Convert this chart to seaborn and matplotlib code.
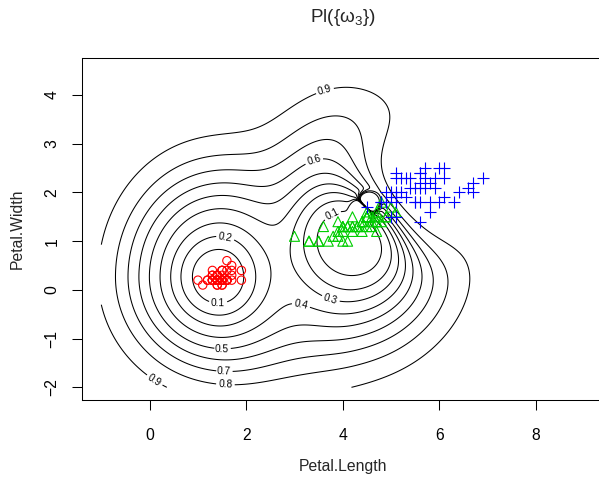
import numpy as np
import pandas as pd
import matplotlib
matplotlib.use("Agg")
import matplotlib.pyplot as plt
import seaborn as sns

# ---------------- data: iris petal measurements ----------------
setosa_length = [1.4, 1.4, 1.3, 1.5, 1.4, 1.7, 1.4, 1.5, 1.4, 1.5, 1.5, 1.6, 1.4, 1.1, 1.2,
                 1.5, 1.3, 1.4, 1.7, 1.5, 1.7, 1.5, 1.0, 1.7, 1.9, 1.6, 1.6, 1.5, 1.4, 1.6,
                 1.6, 1.5, 1.5, 1.4, 1.5, 1.2, 1.3, 1.4, 1.3, 1.5, 1.3, 1.3, 1.3, 1.6, 1.9,
                 1.4, 1.6, 1.4, 1.5, 1.4]
setosa_width = [0.2, 0.2, 0.2, 0.2, 0.2, 0.4, 0.3, 0.2, 0.2, 0.1, 0.2, 0.2, 0.1, 0.1, 0.2,
                0.4, 0.4, 0.3, 0.3, 0.3, 0.2, 0.4, 0.2, 0.5, 0.2, 0.2, 0.4, 0.2, 0.2, 0.2,
                0.2, 0.4, 0.1, 0.2, 0.2, 0.2, 0.2, 0.1, 0.2, 0.2, 0.3, 0.3, 0.2, 0.6, 0.4,
                0.3, 0.2, 0.2, 0.2, 0.2]
versicolor_length = [4.7, 4.5, 4.9, 4.0, 4.6, 4.5, 4.7, 3.3, 4.6, 3.9, 3.5, 4.2, 4.0, 4.7, 3.6,
                     4.4, 4.5, 4.1, 4.5, 3.9, 4.8, 4.0, 4.9, 4.7, 4.3, 4.4, 4.8, 5.0, 4.5, 3.5,
                     3.8, 3.7, 3.9, 5.1, 4.5, 4.5, 4.7, 4.4, 4.1, 4.0, 4.4, 4.6, 4.0, 3.3, 4.2,
                     4.2, 4.2, 4.3, 3.0, 4.1]
versicolor_width = [1.4, 1.5, 1.5, 1.3, 1.5, 1.3, 1.6, 1.0, 1.3, 1.4, 1.0, 1.5, 1.0, 1.4, 1.3,
                    1.4, 1.5, 1.0, 1.5, 1.1, 1.8, 1.3, 1.5, 1.2, 1.3, 1.4, 1.4, 1.7, 1.5, 1.0,
                    1.1, 1.0, 1.2, 1.6, 1.5, 1.6, 1.5, 1.3, 1.3, 1.3, 1.2, 1.4, 1.2, 1.0, 1.3,
                    1.2, 1.3, 1.3, 1.1, 1.3]
virginica_length = [6.0, 5.1, 5.9, 5.6, 5.8, 6.6, 4.5, 6.3, 5.8, 6.1, 5.1, 5.3, 5.5, 5.0, 5.1,
                    5.3, 5.5, 6.7, 6.9, 5.0, 5.7, 4.9, 6.7, 4.9, 5.7, 6.0, 4.8, 4.9, 5.6, 5.8,
                    6.1, 6.4, 5.6, 5.1, 5.6, 6.1, 5.6, 5.5, 4.8, 5.4, 5.6, 5.1, 5.1, 5.9, 5.7,
                    5.2, 5.0, 5.2, 5.4, 5.1]
virginica_width = [2.5, 1.9, 2.1, 1.8, 2.2, 2.1, 1.7, 1.8, 1.8, 2.5, 2.0, 1.9, 2.1, 2.0, 2.4,
                   2.3, 1.8, 2.2, 2.3, 1.5, 2.3, 2.0, 2.0, 1.8, 2.1, 1.8, 1.8, 1.8, 2.1, 1.6,
                   1.9, 2.0, 2.2, 1.5, 1.4, 2.3, 2.4, 1.8, 1.8, 2.1, 2.4, 2.3, 1.9, 2.3, 2.5,
                   2.3, 1.9, 2.0, 2.3, 1.8]

# ---------------- evidence sources behind the Pl({w3}) surface ----------------
# class (1 setosa, 2 versicolor, 3 virginica), weight, centre, spreads (left/right/down/up)
source_class = [1, 1, 2, 2, 2, 2, 3, 3]
source_weight = [1.74, 2.0, 1.7, 2.8, 40.0, 0.2, 4.0, 40.0]
source_cx = [1.43, 1.43, 4.2, 4.3, 4.39, 2.8, 5.6, 4.53]
source_cy = [0.27, 0.27, 1.0, 1.1, 1.64, -0.6, 2.05, 1.78]
source_gxl = [0.45, 3.2, 0.5, 1.3, 60.0, 0.5, 0.5, 60.0]
source_gxr = [0.5, 3.6, 0.4, 1.3, 60.0, 0.5, 0.5, 60.0]
source_gyd = [0.45, 3.2, 0.35, 1.6, 60.0, 0.5, 0.7, 60.0]
source_gyu = [0.34, 3.2, 0.27, 1.5, 60.0, 0.5, 0.6, 60.0]

contour_levels = [0.1, 0.2, 0.3, 0.4, 0.5, 0.6, 0.7, 0.8, 0.9]
label_levels = [0.9, 0.9, 0.8, 0.7, 0.6, 0.5, 0.4, 0.3, 0.2, 0.1, 0.1]
label_x = [3.67, 0.08, 1.57, 1.53, 3.38, 1.49, 3.12, 3.77, 1.55, 1.42, 3.79]
label_y = [3.95, -1.89, -1.93, -1.61, 2.73, -1.17, -0.37, -0.12, 0.99, -0.23, 1.53]

x_ticks = [0, 2, 4, 6, 8]
y_ticks = [-2, -1, 0, 1, 2, 3, 4]

# ---------------- style ----------------
sns.set_style("ticks")
plt.rcParams["font.family"] = ["Liberation Sans", "DejaVu Sans"]
plt.rcParams["mathtext.fontset"] = "custom"
plt.rcParams["mathtext.rm"] = "Liberation Sans"
plt.rcParams["mathtext.it"] = "Liberation Sans"
plt.rcParams["mathtext.default"] = "regular"

W, H = 599, 478
fig = plt.figure(figsize=(W / 100, H / 100), dpi=100)
left, right, top, bottom = 82, 603.6, 58, 400
ax = fig.add_axes([left / W, (H - bottom) / H, (right - left) / W, (bottom - top) / H])

# ---------------- surface ----------------
gx = np.linspace(-1, 9, 501)
gy = np.linspace(-2, 4.5, 421)
X, Y = np.meshgrid(gx, gy)
L = {1: np.zeros_like(X), 2: np.zeros_like(X), 3: np.zeros_like(X)}
for c, w, cx, cy, gxl, gxr, gyd, gyu in zip(source_class, source_weight, source_cx, source_cy,
                                           source_gxl, source_gxr, source_gyd, source_gyu):
    dx = X - cx
    dy = Y - cy
    q = np.where(dx < 0, gxl, gxr) * dx ** 2 + np.where(dy < 0, gyd, gyu) * dy ** 2
    L[c] = L[c] + w * np.exp(-q)
A1, A2, A3 = np.exp(-L[1]), np.exp(-L[2]), np.exp(-L[3])
Pl3 = A1 * A2 / (A2 * A3 + A1 * A3 + A1 * A2 - 2 * A1 * A2 * A3)

for lev in contour_levels:
    cs = ax.contour(X, Y, Pl3, levels=[lev], colors="black", linewidths=0.75, zorder=1)
    pos = [(x, y) for l, x, y in zip(label_levels, label_x, label_y) if abs(l - lev) < 1e-9]
    if pos and len(cs.allsegs[0]) > 0:
        ax.clabel(cs, manual=pos, inline=True, inline_spacing=3, fontsize=7.3, fmt="%.1f")

# ---------------- points ----------------
df = pd.DataFrame({
    "Petal.Length": setosa_length + versicolor_length + virginica_length,
    "Petal.Width": setosa_width + versicolor_width + virginica_width,
    "Species": ["setosa"] * 50 + ["versicolor"] * 50 + ["virginica"] * 50,
})
styles = {"setosa": ("o", "#FF0000", 36, "none"),
          "versicolor": ("^", "#00CD00", 52, "none"),
          "virginica": ("+", "#0000FF", 70, "#0000FF")}
for sp, (mk, col, size, fc) in styles.items():
    sub = df[df["Species"] == sp]
    sns.scatterplot(data=sub, x="Petal.Length", y="Petal.Width", marker=mk, s=size,
                    color=col, ax=ax, legend=False, zorder=3)
    coll = ax.collections[-1]
    coll.set_facecolor(fc)
    coll.set_edgecolor(col)
    coll.set_linewidth(0.8)

# ---------------- axes ----------------
ax.set_xlim(-1.4, 9.4)
ax.set_ylim(-2.26, 4.76)
ax.set_xticks(x_ticks)
ax.set_yticks(y_ticks)
ax.set_xticklabels([str(t) for t in x_ticks])
ax.set_yticklabels(["\u2212" + str(-t) if t < 0 else str(t) for t in y_ticks])
for s in ax.spines.values():
    s.set_visible(True)
    s.set_color("black")
    s.set_linewidth(0.75)
ax.tick_params(direction="out", length=7.2, width=0.75, colors="black", labelsize=11.3)
ax.tick_params(axis="x", pad=13)
ax.tick_params(axis="y", pad=9, labelrotation=90)
for lab in ax.get_yticklabels():
    lab.set_va("center")

ax.set_xlabel("Petal.Length", fontsize=11.3)
ax.set_ylabel("Petal.Width", fontsize=11.3)
ax.xaxis.set_label_coords(0.5, (bottom - 467) / (bottom - top))
ax.xaxis.label.set_va("center")
ax.yaxis.set_label_coords((17 - left) / (right - left), 0.5)
ax.yaxis.label.set_va("center")
ax.text(0.5, (bottom - 18) / (bottom - top), "Pl({\u03c9$_3$})", transform=ax.transAxes,
        ha="center", va="center", fontsize=13.6)

fig.savefig("out.png", dpi=100)
